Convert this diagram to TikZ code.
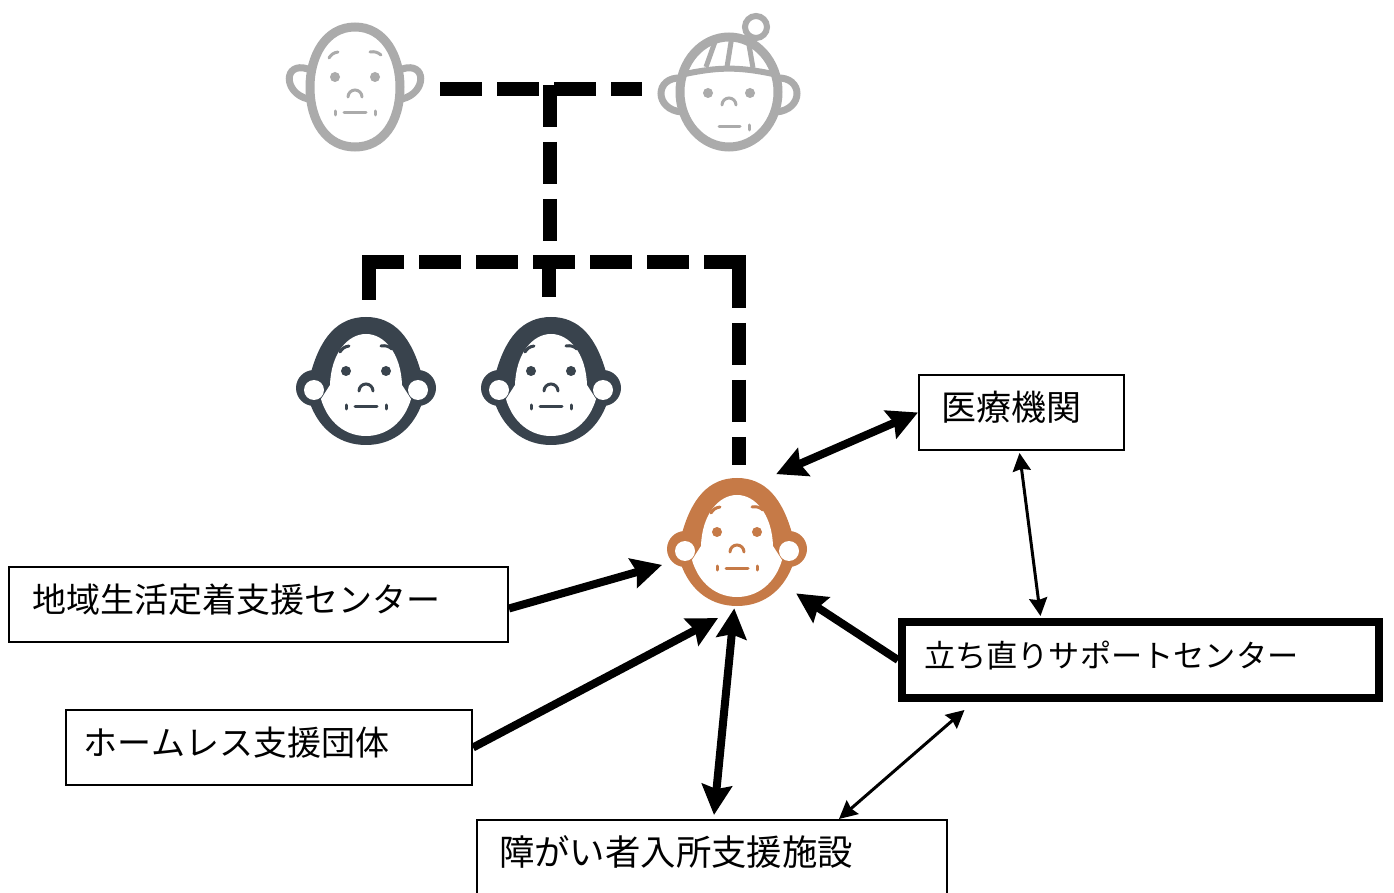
\documentclass[tikz,border=0pt]{standalone}
\usepackage{fontspec}
\usetikzlibrary{arrows.meta}
\setmainfont{Noto Sans CJK JP}
\definecolor{palegrey}{HTML}{ABABAB}
\definecolor{slateface}{HTML}{39434D}
\definecolor{rustface}{HTML}{C67A47}
\newcommand{\facemarks}[1]{
	\draw [#1, line width=1.5pt, line cap=round] (-26,-29) to [bend left=25] (-17,-35);
	\draw [#1, line width=1.5pt, line cap=round] (26,-32) to [bend right=25] (15,-35);
	\fill [#1] (-20,-10) circle (5) (20,-10) circle (5);
	\draw [#1, line width=1.5pt, line cap=round] (-7,10) arc (180:360:7);
	\draw [#1, line width=1.5pt, line cap=round] (-11,26) -- (11,26);
	\draw [#1, line width=1.5pt, line cap=round] (-20,24) -- (-20,28) (20,24) -- (20,28);
}
\tikzset{
	pics/hairface/.style={code={
		% ears
		\fill [#1] (-52,7) circle (18) (52,7) circle (18);
		% head with hair
		\fill [#1] (-56,-5) .. controls (-46,-44) and (-28,-64) .. (0,-64) .. controls (28,-64) and (46,-44) .. (56,-5)
			-- (55,25) .. controls (45,50) and (25,64) .. (0,64) .. controls (-25,64) and (-45,50) .. (-55,25) -- cycle;
		\fill [white] (-36,4) .. controls (-35,-28) and (-18,-47) .. (0,-47) .. controls (18,-47) and (35,-28) .. (36,4)
			-- (45,18) .. controls (38,42) and (20,55) .. (0,55) .. controls (-20,55) and (-38,42) .. (-45,18) -- cycle;
		\fill [white] (-52,9) circle (10) (52,9) circle (10);
		\facemarks{#1}
	}},
	pics/baldface/.style={code={
		\draw [#1, line width=3.5pt, line cap=round] (-47,-18) .. controls (-72,-26) and (-72,6) .. (-47,12);
		\draw [#1, line width=3.5pt, line cap=round] (47,-18) .. controls (72,-26) and (72,6) .. (47,12);
		\draw [#1, line width=4.5pt, fill=white] (0,-60) .. controls (30,-60) and (45,-30) .. (45,0)
			.. controls (45,35) and (28,60) .. (0,60) .. controls (-28,60) and (-45,35) .. (-45,0)
			.. controls (-45,-30) and (-30,-60) .. (0,-60) -- cycle;
		\facemarks{#1}
	}},
	pics/hatface/.style={code={
		\draw [#1, line width=3.5pt, line cap=round] (-47,-14) .. controls (-75,-16) and (-75,18) .. (-47,20);
		\draw [#1, line width=3.5pt, line cap=round] (47,-14) .. controls (75,-16) and (75,18) .. (47,20);
		\draw [#1, line width=4.5pt, fill=white] (0,0) ellipse (49 and 55);
		% hat
		\draw [#1, line width=3pt] (-44,-18) to [bend left=12] (44,-18);
		\draw [#1, line width=2.5pt] (-23,-25) -- (-13,-53) (-2,-25) -- (3,-56) (24,-24) -- (19,-53);
		\draw [#1, line width=3pt, fill=white] (27,-65) circle (11);
		% face
		\fill [#1] (-21,1) circle (5) (21,1) circle (5);
		\draw [#1, line width=1.5pt, line cap=round] (-7,13) arc (180:360:7);
		\draw [#1, line width=1.5pt, line cap=round] (-10,35) -- (11,35) (20,33) -- (20,38);
	}},
	orgbox/.style={draw, fill=white, line width=1pt, inner xsep=0pt, inner ysep=0pt, anchor=north west,
		align=left, text height=9pt, text depth=1pt, font=\fontsize{17}{20}\selectfont},
	kin/.style={line width=7pt, dash pattern=on 21pt off 7.5pt},
	kinleg/.style={line width=7pt},
	tie/.style={{Stealth[length=15pt,width=15pt,inset=2pt]}-{Stealth[length=15pt,width=15pt,inset=2pt]}, line width=4pt},
	help/.style={-{Stealth[length=15pt,width=15pt,inset=2pt]}, line width=4pt},
	thin tie/.style={{Stealth[length=9pt,width=9pt,inset=1pt]}-{Stealth[length=9pt,width=9pt,inset=1pt]}, line width=1.5pt}
}
\begin{document}
\begin{tikzpicture}[x=0.5pt, y=-0.5pt]

	\useasboundingbox [fill=white] (0,0) rectangle (1394,893);

	% faces
	\pic at (355,87) {baldface=palegrey};
	\pic at (729,92) {hatface=palegrey};
	\foreach \x in {366,551}
		\pic at (\x,381) {hairface=slateface};
	\pic at (737,542) {hairface=rustface};

	\node [circle, minimum size=85pt, inner sep=0pt] (grandpa) at (355,89) {};
	\node [circle, minimum size=87pt, inner sep=0pt] (grandma) at (729,89) {};
	\node [circle, minimum size=78pt, inner sep=0pt] (patient) at (737,542) {};

	% organisations
	\node [orgbox, minimum width=249.5pt, minimum height=37.5pt, text width=249.5pt] (teichaku) at (8,566) {\hspace*{12pt}地域生活定着支援センター};
	\node [orgbox, minimum width=203pt, minimum height=37.5pt, text width=203pt] (homeless) at (65,709) {\hspace*{9pt}ホームレス支援団体};
	\node [orgbox, minimum width=235pt, minimum height=37pt, text width=235pt, font=\fontsize{17.7}{20}\selectfont] (shisetsu) at (476,819) {\hspace*{11pt}障がい者入所支援施設};
	\node [orgbox, minimum width=102.5pt, minimum height=37.5pt, text width=102.5pt, font=\fontsize{17.5}{20}\selectfont] (iryo) at (918,374) {\hspace*{11pt}医療機関};
	\node [orgbox, line width=4pt, minimum width=238.5pt, minimum height=38pt, text width=238.5pt,
		font=\fontsize{15.6}{19}\selectfont] (tachinaori) at (898,618) {\hspace*{11pt}立ち直りサポートセンター};

	% parents
	\coordinate (join-top) at (550,85);
	\coordinate (join-low) at (550,243);
	\draw [kin] (grandpa.east) -- (grandma.west);
	\draw [kin] (join-top) -- (join-low);

	% children
	\coordinate (bar-l) at (362,262);
	\coordinate (bar-r) at (746,262);
	\coordinate (leg-l) at (369,300);
	\coordinate (leg-l2) at (369,255);
	\coordinate (leg-m) at (549,297);
	\coordinate (leg-r) at (739,308);
	\coordinate (leg-r1) at (739,255);
	\coordinate (leg-r2) at (739,323);
	\coordinate (leg-r3) at (739,465);
	\draw [kin] (bar-l) -- (bar-r);
	\draw [kinleg] (leg-l) -- (leg-l2);
	\draw [kinleg] (leg-m) -- (leg-m |- bar-l);
	\draw [kinleg] (leg-r) -- (leg-r1);
	\draw [kin] (leg-r2) -- (leg-r3);

	% arrows
	\draw [help] ([yshift=-2pt]teichaku.east) -- (patient.197);
	\draw [help] (homeless.east) -- (patient.256);
	\draw [help] (tachinaori.west) -- (patient.319);
	\draw [tie] ([xshift=1pt,yshift=2pt]shisetsu.north) -- ([yshift=6pt]patient.268);
	\draw [tie] (iryo.west) -- (patient.60);
	\draw [thin tie] ([xshift=-1pt,yshift=-1pt]iryo.south) -- ([xshift=-50pt,yshift=1pt]tachinaori.north);
	\draw [thin tie] ([xshift=-88pt,yshift=-4pt]tachinaori.south) -- ([xshift=63.5pt]shisetsu.north);

\end{tikzpicture}
\end{document}
